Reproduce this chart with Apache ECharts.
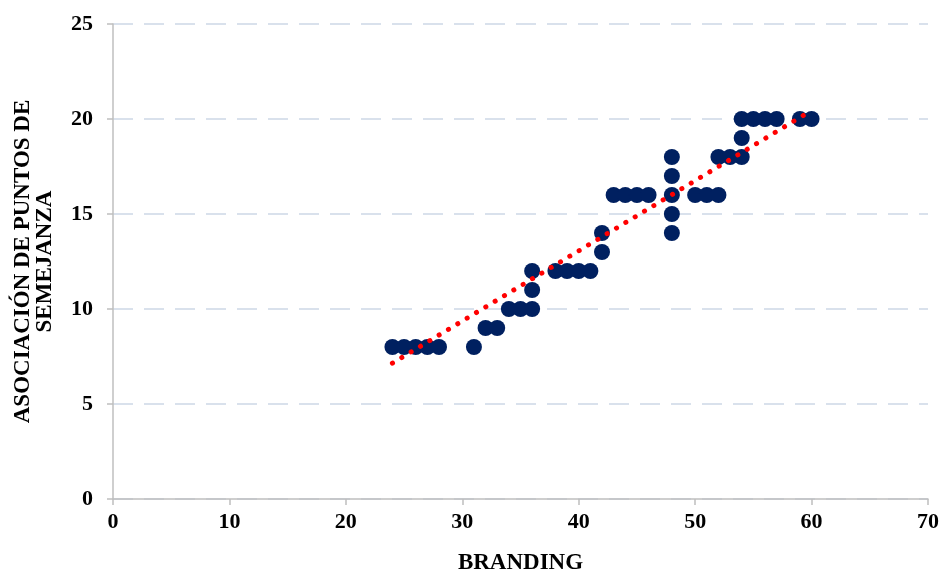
<!DOCTYPE html>
<html>
<head>
<meta charset="utf-8">
<script src="https://cdn.jsdelivr.net/npm/echarts@6/dist/echarts.min.js"></script>
<style>
  html, body { margin: 0; padding: 0; background: #fff; }
  #main { width: 941px; height: 574px; }
</style>
</head>
<body>
<div id="main"></div>
<script>
// Branding (x) vs asociación de puntos de semejanza (y)
var brandingX = [24, 25, 26, 27, 28, 31, 32, 33, 34, 35, 36, 36, 36, 38, 39, 40, 41, 42, 42,
  43, 44, 45, 46, 48, 48, 48, 48, 48, 50, 51, 52, 52, 53, 54, 54, 54, 55, 56, 57, 59, 60]
var semejanzaY = [8, 8, 8, 8, 8, 8, 9, 9, 10, 10, 10, 11, 12, 12, 12, 12, 12, 13, 14,
  16, 16, 16, 16, 14, 15, 16, 17, 18, 16, 16, 16, 18, 18, 18, 19, 20, 20, 20, 20, 20, 20]
// linear trend line (start and end)
var trendX = [24, 60]
var trendY = [7.15, 20.45]
var xTicks = [0, 10, 20, 30, 40, 50, 60, 70]
var yTicks = [0, 5, 10, 15, 20, 25]

var points = brandingX.map(function (x, i) { return [x, semejanzaY[i]] })
var trend = trendX.map(function (x, i) { return [x, trendY[i]] })

var tickFont = {
  fontFamily: 'Liberation Serif',
  fontWeight: 'bold',
  fontSize: 22,
  color: '#000'
}
var nameFont = {
  fontFamily: 'Liberation Serif',
  fontWeight: 'bold',
  fontSize: 23,
  color: '#000'
}

var chart = echarts.init(document.getElementById('main'))
var option = {
  backgroundColor: '#fff',
  animation: false,
  grid: { left: 113, right: 13, top: 24, bottom: 75, containLabel: false, outerBoundsMode: 'none' },
  xAxis: {
    type: 'value',
    min: xTicks[0],
    max: xTicks[xTicks.length - 1],
    interval: 10,
    name: 'BRANDING',
    nameLocation: 'middle',
    nameGap: 53,
    nameTextStyle: nameFont,
    axisLine: { lineStyle: { color: '#bfbfbf', width: 1.5 } },
    axisTick: { show: true, length: 6, lineStyle: { color: '#bfbfbf', width: 1.5 } },
    axisLabel: Object.assign({ margin: 12 }, tickFont),
    splitLine: { show: false }
  },
  yAxis: {
    type: 'value',
    min: yTicks[0],
    max: yTicks[yTicks.length - 1],
    interval: 5,
    name: 'ASOCIACIÓN DE PUNTOS DE\nSEMEJANZA',
    nameLocation: 'middle',
    nameGap: 57,
    nameRotate: 90,
    nameTextStyle: Object.assign({ lineHeight: 22, align: 'center' }, nameFont),
    axisLine: { show: true, lineStyle: { color: '#bfbfbf', width: 1.5 } },
    axisTick: { show: true, length: 6, lineStyle: { color: '#bfbfbf', width: 1.5 } },
    axisLabel: Object.assign({ margin: 20 }, tickFont),
    splitLine: {
      show: true,
      lineStyle: { color: '#d9e1ec', width: 2, type: [20, 11] }
    }
  },
  series: [
    {
      name: 'Datos',
      type: 'scatter',
      symbol: 'circle',
      symbolSize: 16,
      itemStyle: { color: '#002060', opacity: 1 },
      data: points,
      z: 2
    },
    {
      name: 'Lineal',
      type: 'line',
      showSymbol: false,
      symbol: 'none',
      lineStyle: { color: '#ff0000', width: 5, type: [0.1, 10.8], cap: 'round' },
      data: trend,
      z: 3
    }
  ]
}
chart.setOption(option)
</script>
</body>
</html>
